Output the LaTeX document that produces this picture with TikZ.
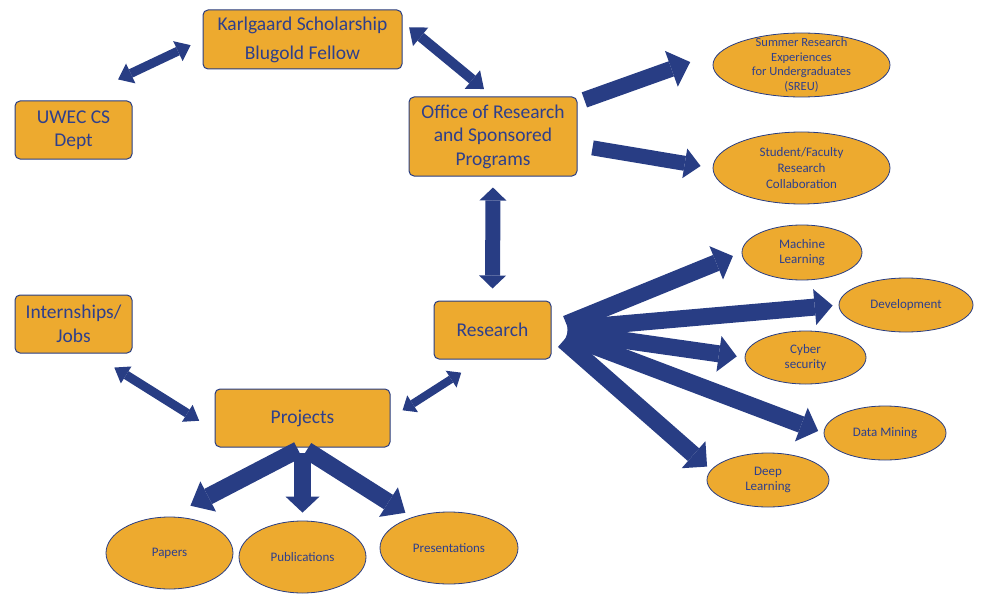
\documentclass[tikz,border=0pt]{standalone}
\usepackage{fontspec}
\setmainfont{Carlito}
\usetikzlibrary{arrows.meta,shapes.geometric}
\definecolor{goldCol}{RGB}{237,170,47}
\definecolor{navyCol}{RGB}{40,61,132}
\definecolor{inkCol}{RGB}{46,63,140}
\tikzset{
  box/.style={draw=navyCol,fill=goldCol,rounded corners=5pt,line width=1pt,text=inkCol,
              align=center,inner sep=0pt,font=\fontsize{19.5}{23.5}\selectfont},
  oval/.style={ellipse,draw=navyCol,fill=goldCol,line width=0.8pt,inner sep=0pt},
  ovaltxt/.style={text=inkCol,align=center,font=\fontsize{13}{15.6}\selectfont},
  twoway/.style n args={3}{draw=navyCol,line width=#1,
              {Triangle[length=#2,width=#3,line width=0pt]}-{Triangle[length=#2,width=#3,line width=0pt]}},
  oneway/.style n args={3}{draw=navyCol,line width=#1,-{Triangle[length=#2,width=#3,line width=0pt]}},
}
\begin{document}
\begin{tikzpicture}[x=1pt,y=-1pt]
  \useasboundingbox (0,0) rectangle (982,615);
  % boxes
  \node[box,minimum width=199pt,minimum height=59pt] (karl) at (302.5,39.5) {Karlgaard Scholarship\\[5.5pt]Blugold Fellow};
  \node[box,minimum width=117pt,minimum height=58pt] (uwec) at (73.5,130) {UWEC CS\\Dept};
  \node[box,minimum width=168pt,minimum height=79pt] (office) at (493,136.5) {Office of Research\\and Sponsored\\Programs};
  \node[box,minimum width=117pt,minimum height=58pt] (research) at (492.5,330) {Research};
  \node[box,minimum width=117pt,minimum height=58pt] (intern) at (73.5,324) {Internships/\\Jobs};
  \node[box,minimum width=175pt,minimum height=58pt] (projects) at (302.5,418) {Projects};
  % ovals
  \node[oval,minimum width=177pt,minimum height=64pt,label={[ovaltxt,font=\fontsize{12.5}{14.6}\selectfont]center:{Summer Research\\Experiences\\for Undergraduates\\(SREU)}}] (sreu) at (801.5,65) {};
  \node[oval,minimum width=177pt,minimum height=72pt,label={[ovaltxt]center:{Student/Faculty\\Research\\Collaboration}}] (collab) at (801.5,168) {};
  \node[oval,minimum width=120pt,minimum height=55pt,label={[ovaltxt]center:{Machine\\Learning}}] (ml) at (802,252.5) {};
  \node[oval,minimum width=134pt,minimum height=54pt,label={[ovaltxt]center:{Development}}] (dev) at (906,305) {};
  \node[oval,minimum width=121pt,minimum height=53pt,label={[ovaltxt]center:{Cyber\\security}}] (cyber) at (805.5,357.5) {};
  \node[oval,minimum width=122pt,minimum height=54pt,label={[ovaltxt]center:{Data Mining}}] (dm) at (885,433) {};
  \node[oval,minimum width=122pt,minimum height=54pt,label={[ovaltxt]center:{Deep\\Learning}}] (dl) at (768,480) {};
  \node[oval,minimum width=127pt,minimum height=72pt,label={[ovaltxt]center:{Papers}}] (papers) at (169.5,553) {};
  \node[oval,minimum width=127pt,minimum height=72pt,label={[ovaltxt]center:{Publications}}] (pubs) at (302.5,557) {};
  \node[oval,minimum width=138pt,minimum height=72pt,label={[ovaltxt]center:{Presentations}}] (pres) at (449,548) {};
  % two-way arrows
  \draw[twoway={9pt}{14pt}{22pt},shorten <=13.2pt,shorten >=49.3pt] (karl.west) -- (uwec.north);
  \draw[twoway={10pt}{15pt}{24pt},shorten <=8.5pt,shorten >=11.7pt] (karl.10) -- (office.north);
  \draw[twoway={15pt}{13pt}{27pt},shorten <=11pt,shorten >=12pt] (office.south) -- (research.north);
  \draw[twoway={8pt}{12pt}{20pt},shorten <=24.4pt,shorten >=14.3pt] (research.250) -- (projects.east);
  \draw[twoway={9pt}{14pt}{20pt},shorten <=26.4pt,shorten >=18.1pt] (intern.-58) -- (projects.188);
  % office outputs
  \draw[oneway={16pt}{20pt}{38pt},shorten <=7.3pt,shorten >=33.2pt] (office.22) -- (sreu.170);
  \draw[oneway={15pt}{16pt}{30pt},shorten <=15.2pt,shorten >=12.2pt] (office.-6) -- (collab.west);
  % research fan
  \foreach \t/\a/\s in {ml/west/9.4,dev/west/6,cyber/west/7.9,dm/west/5.8,dl/170/5.1}
    \draw[oneway={17pt}{18pt}{36pt},shorten <=16pt,shorten >=\s pt] (research.east) -- (\t.\a);
  % project outputs
  \draw[oneway={17pt}{20pt}{34pt},shorten <=5pt,shorten >=23.6pt] (projects.south) -- (papers.north);
  \draw[oneway={17pt}{16pt}{34pt},shorten <=5pt,shorten >=8pt] (projects.south) -- (pubs.north);
  \draw[oneway={17pt}{20pt}{35pt},shorten <=5pt,shorten >=8.1pt] (projects.south) -- (pres.140);
\end{tikzpicture}
\end{document}
